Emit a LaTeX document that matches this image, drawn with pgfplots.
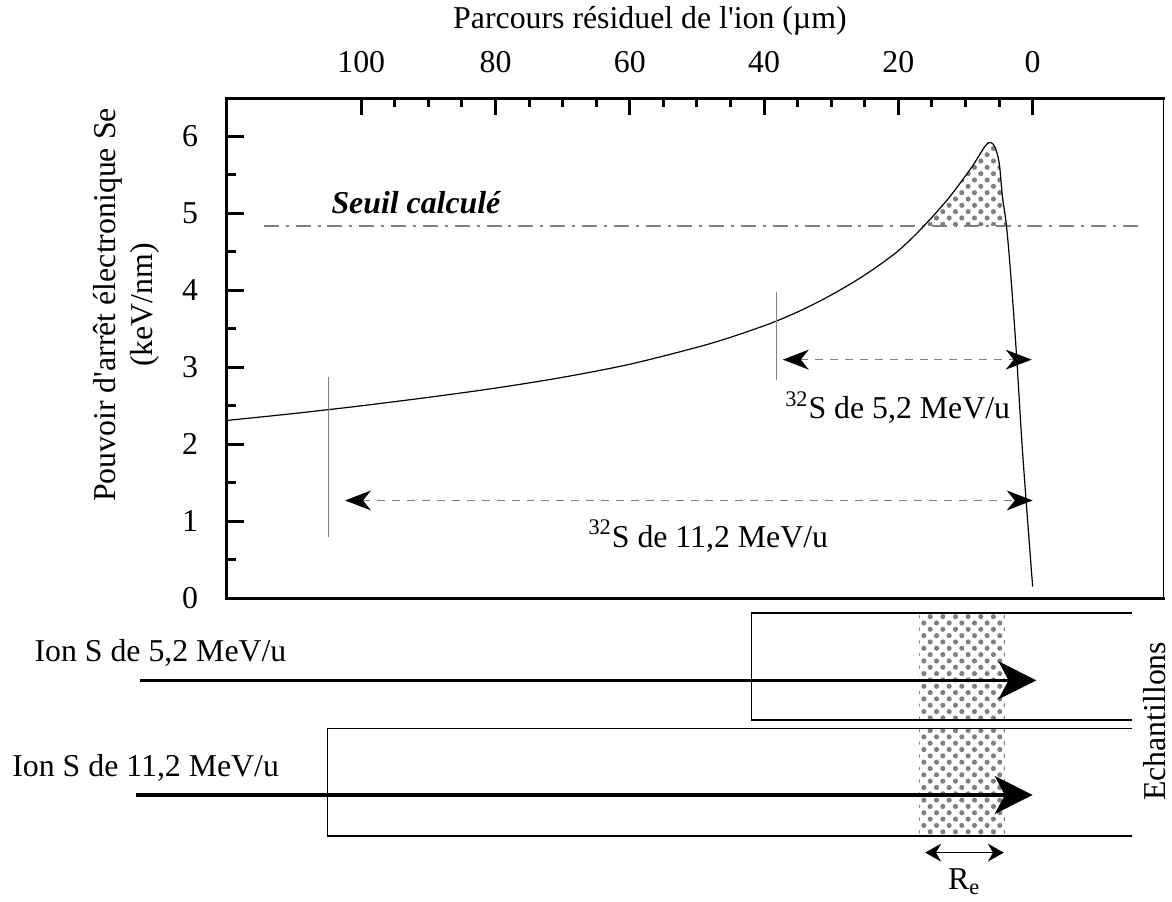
\documentclass[border=0pt]{standalone}
\usepackage{fontspec}
\setmainfont{Liberation Serif}
\usepackage{pgfplots}
\pgfplotsset{compat=1.18}
\usetikzlibrary{arrows.meta,patterns.meta}
\newcommand{\fs}{\fontsize{16}{18.5}\selectfont}
\definecolor{thr}{gray}{0.5}
\begin{document}
\begin{tikzpicture}
\begin{axis}[
  scale only axis, width=471pt, height=251.5pt,
  x dir=reverse, xmin=-19.5, xmax=120, ymin=0, ymax=6.5,
  clip=false,
  axis line style={draw=none},
  xtick={0,20,40,60,80,100}, minor x tick num=3,
  ytick={0,1,2,3,4,5,6}, minor y tick num=1,
  xtick pos=right, xticklabel pos=right,
  ytick pos=left,
  tick align=inside,
  major tick length=8.5pt, minor tick length=4.5pt,
  every tick/.append style={black, line width=1.5pt},
  ticklabel style={font=\fs},
  /pgf/number format/assume math mode=true,
  yticklabel style={xshift=-11pt},
  xticklabel style={yshift=9pt},
]
% frame
\draw[line width=1.5pt, line cap=rect] (axis cs:120,0) -- (axis cs:120,6.5) -- (axis cs:-19.5,6.5);
\draw[line width=1.5pt, line cap=rect] (axis cs:120,0) -- (axis cs:-19.5,0);
\draw[line width=0.6pt] (axis cs:-19.5,0) -- (axis cs:-19.5,6.5);

% shaded region above threshold
\addplot[draw=none, smooth, tension=0.5, pattern={Dots[distance=4.5pt,radius=1.3pt,angle=45]}, pattern color=gray]
  coordinates {(16.3,4.84) (15,4.95) (12.5,5.20) (10.5,5.43) (9,5.61) (8,5.75) (7.2,5.86) (6.6,5.92) (6.0,5.91) (5.6,5.86) (5.2,5.75) (4.9,5.60) (4.5,5.22) (3.9,4.84)} -- cycle;

% threshold
\addplot[thr, line width=1pt, dash pattern=on 7.5pt off 3.5pt on 1.5pt off 3.5pt]
  coordinates {(114.5,4.84) (-16.6,4.84)};

% stopping power curve
\addplot[black, line width=0.6pt, smooth, tension=0.5] coordinates {
 (120,2.31) (110,2.40) (100,2.50) (90,2.61) (80,2.73) (70,2.87) (60,3.04)
 (50,3.26) (45,3.39) (40,3.54) (37.5,3.625) (35,3.72) (32.5,3.825) (30,3.94)
 (27.5,4.065) (25,4.20) (22.5,4.35) (20,4.515) (17.5,4.72) (15,4.95) (12.5,5.20)
 (10.5,5.43) (9,5.61) (8,5.75) (7.2,5.86) (6.6,5.92) (6.0,5.91) (5.6,5.86)
 (5.2,5.75) (4.9,5.60) (4.5,5.22) (3.9,4.84) (3.26,4.2) (2.41,3.17) (1.48,1.87) (0,0.15)};

% range markers
\addplot[gray, line width=0.6pt] coordinates {(104.9,0.80) (104.9,2.87)};
\addplot[gray, line width=0.6pt] coordinates {(38.2,2.84) (38.2,3.98)};

\draw[thr, line width=0.7pt, dash pattern=on 4pt off 3.5pt,
  {Stealth[black,length=13pt,width=10pt,inset=4pt]}-{Stealth[black,length=13pt,width=10pt,inset=4pt]}]
  (axis cs:37.2,3.10) -- (axis cs:0.15,3.10);
\draw[thr, line width=0.7pt, dash pattern=on 4pt off 3.5pt,
  {Stealth[black,length=13pt,width=10pt,inset=4pt]}-{Stealth[black,length=13pt,width=10pt,inset=4pt]}]
  (axis cs:102.4,1.27) -- (axis cs:0,1.27);

\node[font=\fs] at (axis cs:20.1,2.48) {\textsuperscript{32}S de 5,2 MeV/u};
\node[font=\fs] at (axis cs:48.3,0.81) {\textsuperscript{32}S de 11,2 MeV/u};
\node[font=\fs\bfseries\itshape] at (axis cs:91.85,5.14) {Seuil calculé};

% axis titles
\node[font=\fs] at (axis cs:57,7.50) {Parcours résiduel de l\textquotesingle ion (µm)};
\node[font=\fs, rotate=90, align=center] at (axis cs:135.0,3.81)
  {Pouvoir d\textquotesingle arrêt électronique Se\\(keV/nm)};

% lower schematic: shaded bands
\fill[pattern={Dots[distance=4.5pt,radius=1.3pt,angle=45]}, pattern color=gray]
  (axis cs:16.9,-0.194) rectangle (axis cs:4.15,-1.585);
\fill[pattern={Dots[distance=4.5pt,radius=1.3pt,angle=45]}, pattern color=gray]
  (axis cs:16.9,-1.693) rectangle (axis cs:4.15,-3.088);

% samples
\draw[line width=0.75pt] (axis cs:-14.8,-0.194) -- (axis cs:41.9,-0.194) -- (axis cs:41.9,-1.585) -- (axis cs:-14.8,-1.585);
\draw[line width=0.75pt] (axis cs:-14.8,-1.693) -- (axis cs:105,-1.693) -- (axis cs:105,-3.088) -- (axis cs:-14.8,-3.088);

% ion arrows
\draw[line width=1.7pt, -{Stealth[length=19pt,width=19pt,inset=5pt]}]
  (axis cs:133.0,-1.068) -- (axis cs:-0.55,-1.068);
\draw[line width=1.7pt, -{Stealth[length=19pt,width=19pt,inset=5pt]}]
  (axis cs:133.5,-2.558) -- (axis cs:0,-2.558);

\node[font=\fs] at (axis cs:129.9,-0.71) {Ion S de 5,2 MeV/u};
\node[font=\fs] at (axis cs:132.1,-2.20) {Ion S de 11,2 MeV/u};
\node[font=\fs, rotate=90] at (axis cs:-18.1,-1.60) {Echantillons};

% R_e
\draw[line width=0.6pt, {Stealth[length=8pt,width=9pt]}-{Stealth[length=8pt,width=9pt]}]
  (axis cs:16.0,-3.307) -- (axis cs:4.3,-3.307);
\node[font=\fs, anchor=base] at (axis cs:10.2,-3.785) {R\textsubscript{e}};

% picture extent
\path (axis cs:153.8,7.687) rectangle (axis cs:-19.85,-3.902);
\end{axis}
\end{tikzpicture}
\end{document}
